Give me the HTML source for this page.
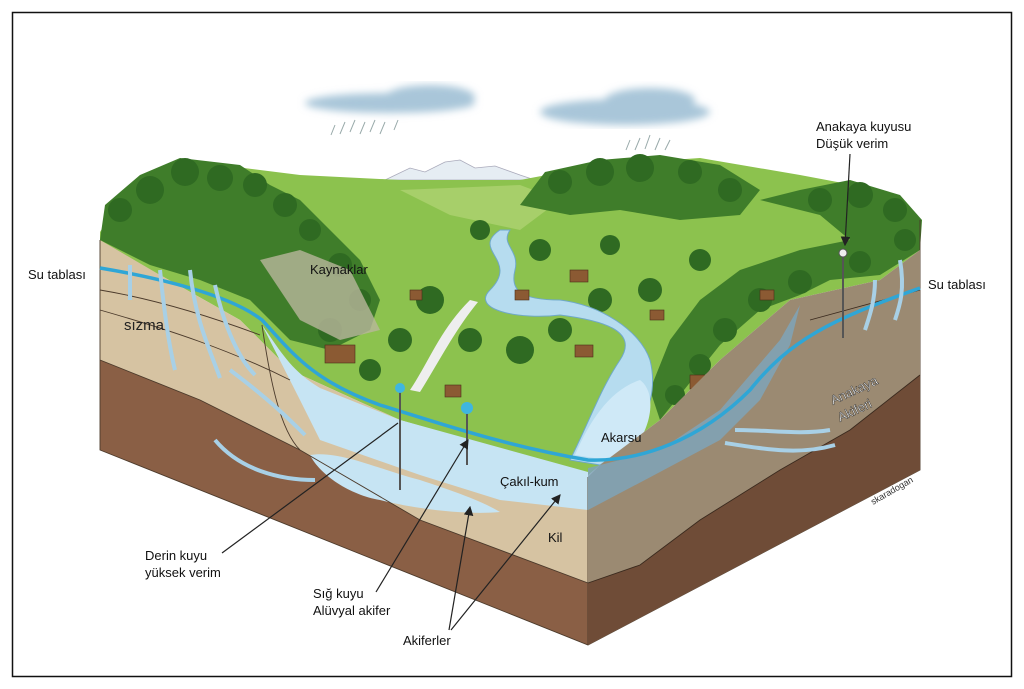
<!DOCTYPE html>
<html><head><meta charset="utf-8"><style>
html,body{margin:0;padding:0;background:#fff;width:1024px;height:689px;overflow:hidden}
svg text{font-family:"Liberation Sans",sans-serif}
</style></head><body>
<svg width="1024" height="689" viewBox="0 0 1024 689" xmlns="http://www.w3.org/2000/svg">
<defs>
<filter id="blur"><feGaussianBlur stdDeviation="4"/></filter>
<marker id="ah" markerWidth="8" markerHeight="8" refX="7" refY="4" orient="auto"><path d="M0,0 L8,4 L0,8 z" fill="#222"/></marker>
</defs>
<rect x="12.5" y="12.5" width="999" height="664" fill="#fff" stroke="#111" stroke-width="1.5"/>
<g filter="url(#blur)" fill="#a9c6d9">
<ellipse cx="390" cy="103" rx="85" ry="10"/><ellipse cx="430" cy="97" rx="45" ry="12"/>
<ellipse cx="625" cy="112" rx="85" ry="13"/><ellipse cx="650" cy="100" rx="45" ry="12"/>
</g>
<g stroke="#9aa" stroke-width="1">
<path d="M225,125 l-4,10 M235,122 l-5,12 M245,120 l-5,12 M255,122 l-5,12 M265,120 l-5,12 M275,122 l-5,12 M288,120 l-4,10" transform="translate(110,0)"/>
<path d="M420,130 l-4,10 M430,128 l-5,12 M440,125 l-5,14 M450,128 l-5,12 M460,130 l-5,10" transform="translate(210,10)"/>
</g>
<path d="M385,180 L410,168 L425,172 L445,162 L460,160 L475,168 L495,166 L520,175 L535,180 Z" fill="#e6edf3" stroke="#aab" stroke-width="0.8"/>
<path d="M100,232 L120,200 L180,160 L300,175 L400,180 L520,180 L600,165 L700,158 L800,175 L880,190 L920,218 L920,250 L880,280 L790,300 L720,360 L660,420 L600,465 L588,475 L400,420 L290,370 L240,320 L160,275 L100,255 Z" fill="#8cc24e"/>
<path d="M400,190 L520,185 L560,200 L520,230 L450,215 Z" fill="#a7cf6a"/>
<g fill="#3f7d2a">
<path d="M100,240 L105,205 L140,175 L180,158 L240,165 L270,185 L300,200 L330,230 L360,260 L380,300 L370,330 L330,350 L290,340 L250,300 L200,280 L150,265 Z"/>
<path d="M520,205 L545,172 L600,160 L660,155 L720,165 L760,190 L740,215 L680,220 L620,210 L570,215 Z"/>
<path d="M760,200 L800,190 L850,180 L900,195 L922,220 L920,250 L880,275 L830,280 L800,295 L760,310 L720,345 L680,395 L660,420 L650,390 L670,340 L700,300 L740,270 L800,250 L850,240 L820,215 Z"/>
</g>
<g fill="#2f6a22">
<circle cx="120" cy="210" r="12"/><circle cx="150" cy="190" r="14"/><circle cx="185" cy="172" r="14"/><circle cx="220" cy="178" r="13"/><circle cx="255" cy="185" r="12"/><circle cx="285" cy="205" r="12"/><circle cx="310" cy="230" r="11"/><circle cx="340" cy="265" r="12"/><circle cx="360" cy="300" r="11"/><circle cx="330" cy="330" r="12"/>
<circle cx="560" cy="182" r="12"/><circle cx="600" cy="172" r="14"/><circle cx="640" cy="168" r="14"/><circle cx="690" cy="172" r="12"/><circle cx="730" cy="190" r="12"/>
<circle cx="820" cy="200" r="12"/><circle cx="860" cy="195" r="13"/><circle cx="895" cy="210" r="12"/><circle cx="905" cy="240" r="11"/><circle cx="860" cy="262" r="11"/><circle cx="800" cy="282" r="12"/><circle cx="760" cy="300" r="12"/><circle cx="725" cy="330" r="12"/><circle cx="700" cy="365" r="11"/><circle cx="675" cy="395" r="10"/>
<circle cx="430" cy="300" r="14"/><circle cx="470" cy="340" r="12"/><circle cx="520" cy="350" r="14"/><circle cx="560" cy="330" r="12"/><circle cx="600" cy="300" r="12"/><circle cx="650" cy="290" r="12"/><circle cx="700" cy="260" r="11"/><circle cx="480" cy="230" r="10"/><circle cx="540" cy="250" r="11"/><circle cx="610" cy="245" r="10"/><circle cx="400" cy="340" r="12"/><circle cx="370" cy="370" r="11"/>
</g>
<path d="M260,260 L300,250 L350,270 L380,330 L340,340 L300,320 Z" fill="#b9b69c" opacity="0.8"/>
<path d="M500,230 C470,250 520,260 490,290 C470,310 520,320 560,315 C600,320 640,330 620,360 C600,390 590,420 570,460 L600,465 C640,440 660,400 650,360 C640,330 600,305 560,300 C520,300 510,290 515,270 C520,250 500,245 510,230 Z" fill="#b6dcef" stroke="#6fa9c8" stroke-width="1"/>
<path d="M575,455 C590,420 610,390 640,380 C660,395 650,440 620,462 Z" fill="#cfe9f7"/>
<path d="M470,300 C440,330 430,360 410,390 L420,392 C440,360 455,330 478,302 Z" fill="#eee"/>
<g fill="#8b5a33" stroke="#4a2e18" stroke-width="0.6">
<rect x="325" y="345" width="30" height="18"/><rect x="445" y="385" width="16" height="12"/><rect x="570" y="270" width="18" height="12"/><rect x="575" y="345" width="18" height="12"/><rect x="690" y="375" width="22" height="14"/><rect x="650" y="310" width="14" height="10"/><rect x="515" y="290" width="14" height="10"/><rect x="760" y="290" width="14" height="10"/><rect x="410" y="290" width="12" height="10"/>
</g>
<!-- LEFT FACE -->
<path d="M100,240 L160,275 L240,320 L290,370 L400,420 L588,477 L588,645 L100,450 Z" fill="#d6c3a2"/>
<path d="M100,360 L200,400 L300,450 L420,520 L588,583 L588,645 L100,450 Z" fill="#8a5f45"/>
<path d="M262,325 C280,350 290,370 320,388 L400,420 L588,472 L588,510 L500,500 L420,475 L320,440 L300,400 Z" fill="#c6e4f3"/>
<path d="M310,455 C340,450 380,470 420,480 C450,490 480,500 500,512 C470,515 420,510 380,500 C350,495 320,475 310,455 Z" fill="#c6e4f3"/>
<g fill="none" stroke="#4b3a2b" stroke-width="0.9">
<path d="M100,290 C160,300 220,320 260,335"/>
<path d="M100,310 C170,330 230,350 290,380"/>
<path d="M100,360 L200,400 L300,450 L420,520 L588,583"/>
<path d="M262,325 C270,380 280,430 300,450"/>
<path d="M588,477 L588,645"/>
<path d="M100,240 L100,450 L588,645 L920,470 L920,220"/>
</g>
<!-- RIGHT FACE -->
<path d="M588,477 L600,465 L660,420 L720,360 L790,300 L880,280 L920,250 L920,470 L588,645 Z" fill="#9b8a72"/>
<path d="M588,583 L640,565 L700,520 L780,470 L850,430 L920,375 L920,470 L588,645 Z" fill="#6f4c37"/>
<path d="M588,468 L660,450 L720,410 L780,340 L800,305 L790,345 L760,400 L720,440 L660,472 L588,510 Z" fill="#7fa3b8" opacity="0.85"/>
<g fill="none" stroke="#3a2a1e" stroke-width="0.9"><path d="M588,583 L640,565 L700,520 L780,470 L850,430 L920,375"/><path d="M810,320 L920,290"/></g>
<path d="M100,268 C160,278 230,295 262,320 C290,350 310,380 380,405 C430,420 500,445 588,460 C640,462 700,440 750,390 C790,340 830,320 920,288" fill="none" stroke="#2fa6d6" stroke-width="3.5"/>
<g stroke="#a8d0e6" stroke-width="4" fill="none">
<path d="M130,265 L130,300"/><path d="M160,270 C165,320 170,350 175,370"/><path d="M190,270 C195,320 210,350 220,378"/><path d="M215,285 C225,330 240,360 255,375"/>
<path d="M230,370 C270,400 290,420 305,435"/><path d="M215,440 C240,470 280,480 315,480"/>
<path d="M830,430 C800,435 770,430 735,430"/><path d="M835,445 C800,455 770,450 725,443"/>
<path d="M875,280 C875,300 870,315 865,330"/><path d="M900,260 C905,290 900,305 895,320"/>
</g>
<g stroke="#555" stroke-width="2"><line x1="400" y1="390" x2="400" y2="490"/><line x1="467" y1="410" x2="467" y2="465"/><line x1="843" y1="255" x2="843" y2="338"/></g>
<circle cx="400" cy="388" r="5" fill="#3fb6e0"/><circle cx="467" cy="408" r="6" fill="#3fb6e0"/><circle cx="843" cy="253" r="4" fill="#eee" stroke="#555"/>
<g stroke="#222" stroke-width="1.2" fill="none">
<line x1="222" y1="553" x2="398" y2="423"/>
<line x1="376" y1="592" x2="468" y2="440" marker-end="url(#ah)"/>
<line x1="449" y1="630" x2="470" y2="507" marker-end="url(#ah)"/>
<line x1="451" y1="630" x2="560" y2="495" marker-end="url(#ah)"/>
<line x1="850" y1="154" x2="845" y2="245" marker-end="url(#ah)"/>
</g>
<g font-size="13" fill="#111">
<text x="28" y="279">Su tablası</text>
<text x="928" y="289">Su tablası</text>
<text x="310" y="274">Kaynaklar</text>
<text x="601" y="442">Akarsu</text>
<text x="500" y="486">Çakıl-kum</text>
<text x="548" y="542">Kil</text>
<text x="816" y="131">Anakaya kuyusu</text>
<text x="816" y="148">Düşük verim</text>
<text x="145" y="560">Derin kuyu</text>
<text x="145" y="577">yüksek verim</text>
<text x="313" y="598">Sığ kuyu</text>
<text x="313" y="615">Alüvyal akifer</text>
<text x="403" y="645">Akiferler</text>
</g>
<text x="124" y="330" font-family="Liberation Serif,serif" font-size="15" fill="#222">sızma</text>
<g font-size="13" fill="#f4f4f4" stroke="#222" stroke-width="0.4">
<text x="833" y="405" transform="rotate(-25 833 405)">Anakaya</text>
<text x="840" y="422" transform="rotate(-25 840 422)">Akiferi</text>
</g>
<text x="873" y="505" font-size="9" fill="#333" transform="rotate(-30 873 505)">skaradogan</text>
</svg>
</body></html>
